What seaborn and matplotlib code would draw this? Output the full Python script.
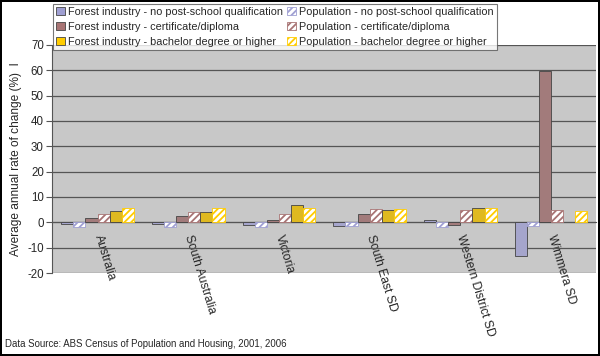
import matplotlib as mpl
mpl.use('Agg')
import matplotlib.pyplot as plt
import seaborn as sns
import pandas as pd
import numpy as np
from matplotlib.patches import Patch

regions = ['Australia', 'South Australia', 'Victoria', 'South East SD',
           'Western District SD', 'Wimmera SD']
series = ['Forest industry - no post-school qualification',
          'Population - no post-school qualification',
          'Forest industry - certificate/diploma',
          'Population - certificate/diploma',
          'Forest industry - bachelor degree or higher',
          'Population - bachelor degree or higher']
fi_none = [-0.8, -0.8, -1.0, -1.6, 0.8, -13.1]
pop_none = [-1.7, -1.7, -1.8, -1.4, -1.8, -1.4]
fi_cert = [1.6, 2.5, 0.9, 3.2, -0.9, 59.8]
pop_cert = [3.2, 4.1, 3.2, 5.2, 4.8, 5.0]
fi_bach = [4.4, 4.0, 6.7, 4.8, 5.6, np.nan]
pop_bach = [5.6, 5.6, 5.6, 5.2, 5.6, 4.5]
colors = ['#9F9FD2', '#9F9FD2', '#A87474', '#A87474', '#FFCC00', '#FFCC00']

rows = []
for s, vals in zip(series, [fi_none, pop_none, fi_cert, pop_cert, fi_bach, pop_bach]):
    for r, v in zip(regions, vals):
        rows.append({'region': r, 'series': s, 'value': v})
df = pd.DataFrame(rows)

sns.set_style("white")
plt.rcParams['font.family'] = ['Liberation Sans', 'DejaVu Sans']
plt.rcParams['hatch.linewidth'] = 1.3
plt.rcParams['axes.unicode_minus'] = False

fig = plt.figure(figsize=(6, 3.56), dpi=100)
fig.patch.set_edgecolor('black')
fig.patch.set_linewidth(1.5)
ax = fig.add_axes([0.087, 0.233, 0.907, 0.641])
ax.set_facecolor('#C8C8C8')

sns.barplot(data=df, x='region', y='value', hue='series', hue_order=series,
            palette=colors, width=0.8, ax=ax, legend=False, zorder=3)

for i, cont in enumerate(ax.containers):
    for bar in cont:
        if i % 2 == 1:
            bar.set_facecolor('white')
            bar.set_edgecolor(colors[i])
            bar.set_hatch('/////')
            bar.set_linewidth(0.6)
        else:
            bar.set_edgecolor('#444444')
            bar.set_linewidth(0.6)

ax.set_ylim(-20, 70)
ax.set_yticks(range(-20, 80, 10))
ax.yaxis.grid(True, color='#555555', linewidth=0.9, zorder=0)
ax.set_axisbelow(True)
ax.tick_params(axis='y', length=4, width=0.8, color='#555555', labelsize=8.3, pad=2, left=True)
ax.set_ylabel('Average annual rate of change (%)  I', fontsize=8.6, labelpad=4)
ax.set_xlabel('')
ax.set_xlim(-0.5, 5.5)

for side in ['top', 'right']:
    ax.spines[side].set_visible(False)
ax.spines['left'].set_color('#555555')
ax.spines['bottom'].set_position(('data', 0))
ax.spines['bottom'].set_color('#555555')
ax.set_xticks(range(len(regions)))
ax.set_xticklabels(regions, rotation=-73, rotation_mode='anchor', ha='left', va='center',
                   fontsize=8.7)
ax.tick_params(axis='x', length=0, pad=9)
ax.set_xticks(np.arange(0.5, 5.5, 1), minor=True)
ax.tick_params(axis='x', which='minor', length=4, width=0.8, color='#555555', direction='out')

# legend in two columns: forest industry first column
handles = []
for i in [0, 2, 4, 1, 3, 5]:
    if i % 2 == 0:
        handles.append(Patch(facecolor=colors[i], edgecolor='#444444', linewidth=0.6, label=series[i]))
    else:
        handles.append(Patch(facecolor='white', edgecolor=colors[i], hatch='/////', linewidth=0.6, label=series[i]))
leg = fig.legend(handles=handles, ncol=2, loc='upper left', bbox_to_anchor=(0.088, 0.99),
                 fontsize=7.85, frameon=True, fancybox=False, handlelength=0.8, handleheight=0.8,
                 handletextpad=0.3, columnspacing=0.4, labelspacing=0.45, borderpad=0.3,
                 borderaxespad=0)
leg.get_frame().set_edgecolor('#555555')
leg.get_frame().set_linewidth(0.8)

fig.text(0.008, 0.025, 'Data Source: ABS Census of Population and Housing, 2001, 2006', fontsize=6.9)

fig.savefig('out.png', dpi=100)
